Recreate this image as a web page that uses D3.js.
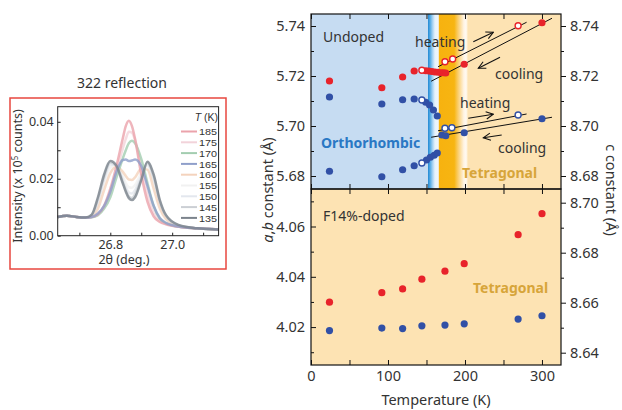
<!DOCTYPE html>
<html>
<head>
<meta charset="utf-8">
<script src="https://cdn.jsdelivr.net/npm/d3@7"></script>
<style>
    body { margin: 0; background: #fff; font-family: "Noto Sans", "Open Sans", sans-serif; }
    text { fill: #333; }
</style>
</head>
<body>
<div id="chart"></div>
<script>
// ---- inset: 322 reflection scans ----
var twoTheta = [26.63, 26.66, 26.69, 26.72, 26.74, 26.76, 26.78, 26.80, 26.82, 26.84, 26.85, 26.86, 26.87, 26.88, 26.90, 26.92, 26.94, 26.96, 26.98, 27.02, 27.08, 27.15];
var scanTemps = ["185", "175", "170", "165", "160", "155", "150", "145", "135"];
var i185 = [.0066, .0070, .0066, .0064, .0066, .0075, .0105, .0165, .0245, .0340, .0385, .0404, .0385, .0340, .0215, .0120, .0068, .0048, .0040, .0031, .0026, .0022];
var i175 = [.0066, .0070, .0066, .0064, .0066, .0074, .0100, .0150, .0225, .0305, .0340, .0365, .0362, .0335, .0240, .0145, .0080, .0052, .0042, .0031, .0026, .0022];
var i170 = [.0066, .0070, .0066, .0064, .0065, .0072, .0095, .0135, .0205, .0270, .0300, .0325, .0333, .0325, .0270, .0185, .0105, .0060, .0043, .0032, .0026, .0022];
var i165 = [.0066, .0070, .0066, .0064, .0066, .0078, .0105, .0155, .0225, .0266, .0268, .0262, .0264, .0268, .0245, .0175, .0105, .0062, .0045, .0032, .0026, .0022];
var i160 = [.0066, .0070, .0066, .0064, .0068, .0095, .0160, .0220, .0242, .0225, .0210, .0197, .0196, .0205, .0235, .0232, .0165, .0095, .0058, .0034, .0026, .0022];
var i155 = [.0066, .0070, .0066, .0064, .0070, .0110, .0185, .0240, .0250, .0210, .0185, .0170, .0168, .0178, .0220, .0245, .0190, .0108, .0063, .0035, .0026, .0022];
var i150 = [.0066, .0070, .0066, .0064, .0071, .0120, .0198, .0250, .0248, .0198, .0170, .0152, .0148, .0160, .0208, .0252, .0200, .0115, .0067, .0036, .0026, .0022];
var i145 = [.0066, .0070, .0066, .0064, .0072, .0128, .0207, .0257, .0246, .0190, .0160, .0138, .0132, .0146, .0200, .0256, .0208, .0120, .0070, .0037, .0026, .0022];
var i135 = [.0066, .0070, .0066, .0064, .0074, .0135, .0215, .0262, .0245, .0185, .0155, .0132, .0125, .0135, .0195, .0260, .0215, .0125, .0072, .0038, .0026, .0022];
var scanColors = ["#eba3ab", "#f2d3da", "#a3cdb0", "#8f9fca", "#f4d3bd", "#f1f1f1", "#e3e7ee", "#cbcfd4", "#7b838c"];

// ---- undoped, c axis (red) ----
var cCoolT = [24, 92, 119, 134, 149, 153, 157, 161, 165, 169, 172, 175, 199, 300];
var cCool = [8.7180, 8.7153, 8.7196, 8.7220, 8.7221, 8.7220, 8.7218, 8.7216, 8.7215, 8.7213, 8.7213, 8.7212, 8.7247, 8.7413];
var cHeatT = [144, 174, 184, 269];
var cHeat = [8.7223, 8.7257, 8.7268, 8.7401];

// ---- undoped, a/b axes (blue) ----
var bCoolT = [24, 92, 119, 134, 149, 154, 159, 164];
var bCool = [5.7116, 5.7088, 5.7105, 5.7108, 5.7095, 5.7084, 5.7064, 5.7040];
var aCoolT = [24, 92, 119, 134, 150, 155, 160, 164, 170, 175, 199, 300];
var aCool = [5.6819, 5.6797, 5.6825, 5.6841, 5.6864, 5.6875, 5.6883, 5.6892, 5.6964, 5.6961, 5.6973, 5.7029];
var abHeatT = [144, 144, 174, 183, 269];
var abHeat = [5.7104, 5.6852, 5.6991, 5.6993, 5.7044];

// linear guides through the tetragonal points
var coolFitT = [156, 313], heatFitT = [165, 280];
var cCoolFit = [8.7179, 8.7431], cHeatFit = [8.7237, 8.7415];
var aCoolFit = [5.6955, 5.7035], aHeatFit = [5.6981, 5.7048];

// ---- F14%-doped ----
var dopedT = [24, 92, 119, 144, 174, 199, 269, 300];
var dopedC = [8.6602, 8.6640, 8.6655, 8.6694, 8.6726, 8.6756, 8.6872, 8.6956];
var dopedA = [4.0186, 4.0196, 4.0194, 4.0205, 4.0208, 4.0213, 4.0232, 4.0245];

var tempTicks = [0, 50, 100, 150, 200, 250, 300];
var tempLabels = [0, 100, 200, 300];

var width = 622, height = 410;
var red = "#e8232b", blue = "#3150a6";

var svg = d3.select("#chart").append("svg")
    .attr("width", width)
    .attr("height", height);

var defs = svg.append("defs");

// =============== inset ===============
svg.append("rect")
    .attr("x", 10).attr("y", 98).attr("width", 216).attr("height", 171)
    .attr("fill", "none").attr("stroke", "#e8473f").attr("stroke-width", 1.5);

svg.append("text")
    .attr("x", 122).attr("y", 88)
    .attr("text-anchor", "middle")
    .style("font-size", "14px")
    .text("322 reflection");

var ix = d3.scaleLinear().domain([26.63, 27.15]).range([57.7, 218.6]);
var iy = d3.scaleLinear().domain([0, 0.0453]).range([235.7, 106.7]);

var inset = svg.append("g");

var scans = [i185, i175, i170, i165, i160, i155, i150, i145, i135];
var scanLine = d3.line()
    .curve(d3.curveMonotoneX)
    .x(function(d, i) { return ix(twoTheta[i]); })
    .y(function(d) { return iy(d); });

// draw the pale ones first so the strong curves stay on top
var drawOrder = [5, 6, 1, 4, 7, 2, 0, 3, 8];
drawOrder.forEach(function(k) {
    inset.append("path")
        .attr("d", scanLine(scans[k]))
        .attr("fill", "none")
        .attr("stroke", scanColors[k])
        .attr("stroke-width", 2.5)
        .attr("stroke-opacity", 0.8);
});

inset.append("rect")
    .attr("x", ix.range()[0]).attr("y", iy.range()[1])
    .attr("width", ix.range()[1] - ix.range()[0])
    .attr("height", iy.range()[0] - iy.range()[1])
    .attr("fill", "none").attr("stroke", "#222").attr("stroke-width", 1);

var iyAxis = inset.append("g")
    .attr("transform", "translate(" + ix.range()[0] + ",0)")
    .call(d3.axisLeft(iy).tickValues([0, 0.01, 0.02, 0.03, 0.04])
        .tickSizeInner(-3).tickSizeOuter(0).tickPadding(4)
        .tickFormat(function(d) { return [0, 0.02, 0.04].indexOf(d) >= 0 ? d3.format(".2f")(d) : ""; }));
var ixAxis = inset.append("g")
    .attr("transform", "translate(0," + iy.range()[0] + ")")
    .call(d3.axisBottom(ix).tickValues([26.7, 26.8, 26.9, 27.0, 27.1])
        .tickSizeInner(-3).tickSizeOuter(0).tickPadding(4)
        .tickFormat(function(d) { return (d === 26.8 || d === 27.0) ? d3.format(".1f")(d) : ""; }));
[iyAxis, ixAxis].forEach(function(a) {
    a.select(".domain").remove();
    a.selectAll("line").attr("stroke", "#222");
    a.selectAll("text").style("font-size", "12.5px").style("font-family", "Noto Sans, sans-serif").attr("fill", "#333");
});

svg.append("text")
    .attr("transform", "translate(22,176) rotate(-90)")
    .attr("text-anchor", "middle")
    .style("font-size", "12.5px")
    .html('Intensity (x 10<tspan dy="-4" style="font-size:8px">5</tspan><tspan dy="4"> counts)</tspan>');

svg.append("text")
    .attr("x", 124).attr("y", 264)
    .attr("text-anchor", "middle")
    .style("font-size", "12.5px")
    .text("2\u03b8 (deg.)");

// legend (tight rows, so a compact font keeps the labels apart)
var leg = inset.append("g");
leg.append("text")
    .attr("x", 218).attr("y", 121)
    .attr("text-anchor", "end")
    .style("font-family", "Liberation Sans, Arial, sans-serif")
    .style("font-size", "10.5px")
    .html('<tspan font-style="italic">T</tspan> (K)');
scanTemps.forEach(function(t, i) {
    var yy = 131.5 + i * 10.8;
    leg.append("line")
        .attr("x1", 181).attr("x2", 197).attr("y1", yy).attr("y2", yy)
        .attr("stroke", scanColors[i]).attr("stroke-width", 2);
    leg.append("text")
        .attr("x", 199).attr("y", yy + 3.6)
        .attr("textLength", 18)
        .attr("lengthAdjust", "spacingAndGlyphs")
        .style("font-family", "Liberation Sans, Arial, sans-serif")
        .style("font-size", "9.6px")
        .text(t);
});

// =============== main plot ===============
var x = d3.scaleLinear().domain([0, 324.7]).range([311, 561]);
var yTop = d3.scaleLinear().domain([5.6748, 5.7448]).range([189, 14]);
var cTop = d3.scaleLinear().domain([8.6748, 8.7448]).range([189, 14]);
var yBot = d3.scaleLinear().domain([4.00492, 4.07492]).range([365, 189]);
var cBot = d3.scaleLinear().domain([8.63508, 8.70548]).range([365, 189]);

function xOff(t) { return (t / x.domain()[1] * 100) + "%"; }

var grad = defs.append("linearGradient")
    .attr("id", "phase")
    .attr("gradientUnits", "userSpaceOnUse")
    .attr("x1", x.range()[0]).attr("x2", x.range()[1])
    .attr("y1", 0).attr("y2", 0);
[[0, "#c6dcf2"], [151.5, "#c6dcf2"], [152.5, "#2c8fd6"], [155, "#5aafe7"], [158, "#a8d3f2"],
 [161, "#e6f2fb"], [165.5, "#eef6fc"], [166, "#f7b20f"], [186, "#f7b512"], [192, "#fbd37e"],
 [198.5, "#fff4e4"], [201.5, "#fffaf2"], [204, "#fde3b3"], [324.7, "#fde3b3"]].forEach(function(s) {
    grad.append("stop").attr("offset", xOff(s[0])).attr("stop-color", s[1]);
});

var topG = svg.append("g"), botG = svg.append("g");

topG.append("rect")
    .attr("x", 311).attr("y", 14).attr("width", 250).attr("height", 175)
    .attr("fill", "url(#phase)");
botG.append("rect")
    .attr("x", 311).attr("y", 189).attr("width", 250).attr("height", 176)
    .attr("fill", "#fde3b3");

// guide lines
function guide(g, ts, vs, sc) {
    g.append("line")
        .attr("x1", x(ts[0])).attr("y1", sc(vs[0]))
        .attr("x2", x(ts[1])).attr("y2", sc(vs[1]))
        .attr("stroke", "#111").attr("stroke-width", 1);
}
guide(topG, heatFitT, cHeatFit, cTop);
guide(topG, coolFitT, cCoolFit, cTop);
guide(topG, heatFitT, aHeatFit, yTop);
guide(topG, coolFitT, aCoolFit, yTop);

// arrows
defs.append("marker")
    .attr("id", "head")
    .attr("viewBox", "0 0 10 10")
    .attr("refX", 9).attr("refY", 5)
    .attr("markerWidth", 9).attr("markerHeight", 9)
    .attr("markerUnits", "userSpaceOnUse")
    .attr("orient", "auto")
    .append("path")
    .attr("d", "M1,1 L9,5 L1,9")
    .attr("fill", "none").attr("stroke", "#111").attr("stroke-width", 1.2);

function arrow(t0, v0, t1, v1, sc) {
    topG.append("line")
        .attr("x1", x(t0)).attr("y1", sc(v0))
        .attr("x2", x(t1)).attr("y2", sc(v1))
        .attr("stroke", "#111").attr("stroke-width", 1.1)
        .attr("marker-end", "url(#head)");
}
arrow(210.8, 8.7337, 236.8, 8.7375, cTop);
arrow(245.5, 8.7275, 217.3, 8.7231, cTop);
arrow(204.3, 5.7031, 236.8, 5.7047, yTop);
arrow(247.7, 5.6964, 223.8, 5.6953, yTop);

// points
function dots(g, ts, vs, sc, color, open) {
    g.selectAll(null)
        .data(ts)
        .enter().append("circle")
        .attr("cx", function(d) { return x(d); })
        .attr("cy", function(d, i) { return sc(vs[i]); })
        .attr("r", open ? 3 : 3.6)
        .attr("fill", open ? "#fff" : color)
        .attr("stroke", open ? color : "none")
        .attr("stroke-width", 1.4);
}
dots(topG, cCoolT, cCool, cTop, red, false);
dots(topG, cHeatT, cHeat, cTop, red, true);
dots(topG, bCoolT, bCool, yTop, blue, false);
dots(topG, aCoolT, aCool, yTop, blue, false);
dots(topG, abHeatT, abHeat, yTop, blue, true);
dots(botG, dopedT, dopedC, cBot, red, false);
dots(botG, dopedT, dopedA, yBot, blue, false);

// panel labels
function label(g, xx, yy, txt, size, color, weight) {
    g.append("text")
        .attr("x", xx).attr("y", yy)
        .style("font-size", size + "px")
        .style("font-weight", weight || "normal")
        .style("fill", color || "#333")
        .text(txt);
}
label(topG, 323, 42, "Undoped", 14);
label(topG, 415, 47, "heating", 14);
label(topG, 495, 79, "cooling", 14);
label(topG, 460, 108, "heating", 14);
label(topG, 498, 153, "cooling", 14);
label(topG, 321, 148, "Orthorhombic", 14, "#2a78c4", "bold");
label(topG, 462, 178, "Tetragonal", 14, "#d7a53a", "bold");
label(botG, 323, 221, "F14%-doped", 14);
label(botG, 473, 293, "Tetragonal", 14, "#d7a53a", "bold");

// axes
function styleAxis(a) {
    a.select(".domain").remove();
    a.selectAll("line").attr("stroke", "#111");
    a.selectAll("text").style("font-size", "14.5px").style("font-family", "Noto Sans, sans-serif").attr("fill", "#333");
}
function leftAxis(sc, vals, labels) {
    var a = svg.append("g")
        .attr("transform", "translate(311,0)")
        .call(d3.axisLeft(sc).tickValues(vals).tickSizeOuter(0).tickPadding(6)
            .tickSizeInner(-5)
            .tickFormat(function(d) { return labels.some(function(l) { return Math.abs(l - d) < 1e-6; }) ? d3.format(".2f")(d) : ""; }));
    styleAxis(a);
    a.selectAll(".tick").filter(function(d) { return !labels.some(function(l) { return Math.abs(l - d) < 1e-6; }); })
        .select("line").attr("x2", 3);
}
function rightAxis(sc, vals, labels) {
    var a = svg.append("g")
        .attr("transform", "translate(561,0)")
        .call(d3.axisRight(sc).tickValues(vals).tickSizeOuter(0).tickPadding(4)
            .tickSizeInner(5)
            .tickFormat(function(d) { return labels.some(function(l) { return Math.abs(l - d) < 1e-6; }) ? d3.format(".2f")(d) : ""; }));
    styleAxis(a);
    a.selectAll(".tick").filter(function(d) { return !labels.some(function(l) { return Math.abs(l - d) < 1e-6; }); })
        .select("line").attr("x2", 3);
}
leftAxis(yTop, [5.68, 5.69, 5.70, 5.71, 5.72, 5.73, 5.74], [5.68, 5.70, 5.72, 5.74]);
leftAxis(yBot, [4.01, 4.02, 4.03, 4.04, 4.05, 4.06, 4.07], [4.02, 4.04, 4.06]);
rightAxis(cTop, [8.68, 8.69, 8.70, 8.71, 8.72, 8.73, 8.74], [8.68, 8.70, 8.72, 8.74]);
rightAxis(cBot, [8.64, 8.65, 8.66, 8.67, 8.68, 8.69, 8.70], [8.64, 8.66, 8.68, 8.70]);

function xAxis(yy, up, showLabels) {
    var a = svg.append("g")
        .attr("transform", "translate(0," + yy + ")")
        .call(d3.axisBottom(x).tickValues(tempTicks).tickSizeOuter(0).tickPadding(6)
            .tickSizeInner(up ? -5 : 5)
            .tickFormat(function(d) { return showLabels && tempLabels.indexOf(d) >= 0 ? d : ""; }));
    styleAxis(a);
}
xAxis(365, true, true);
xAxis(189, true, false);
xAxis(189, false, false);
xAxis(14, false, false);

// frames
[[14, 175], [189, 176]].forEach(function(p) {
    svg.append("rect")
        .attr("x", 311).attr("y", p[0]).attr("width", 250).attr("height", p[1])
        .attr("fill", "none").attr("stroke", "#111").attr("stroke-width", 1.2);
});

svg.append("text")
    .attr("x", 436).attr("y", 405)
    .attr("text-anchor", "middle")
    .style("font-size", "14.5px")
    .text("Temperature (K)");

svg.append("text")
    .attr("transform", "translate(273,190) rotate(-90)")
    .attr("text-anchor", "middle")
    .style("font-size", "14.5px")
    .html('<tspan font-style="italic">a</tspan>,<tspan font-style="italic">b</tspan> constant (\u00c5)');

svg.append("text")
    .attr("transform", "translate(606,190) rotate(90)")
    .attr("text-anchor", "middle")
    .style("font-size", "14.5px")
    .text("c constant (\u00c5)");
</script>
</body>
</html>
